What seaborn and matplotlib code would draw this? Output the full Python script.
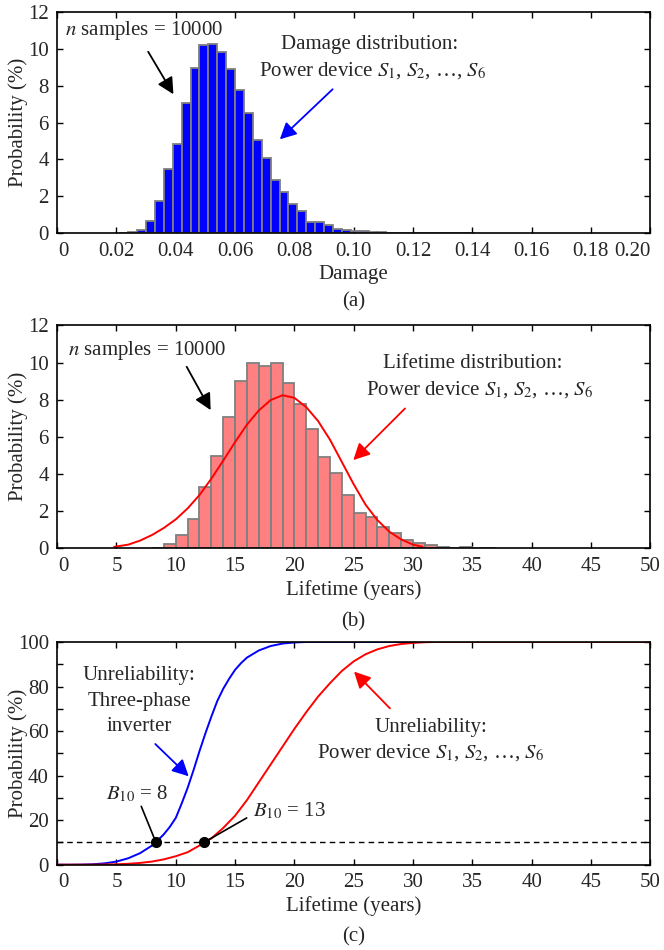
import numpy as np
import matplotlib
matplotlib.use("Agg")
import matplotlib.pyplot as plt
from matplotlib.ticker import MultipleLocator, FixedLocator, FixedFormatter
from matplotlib.transforms import ScaledTranslation
import seaborn as sns

# ─── Data ──────────────────────────────────────────────────────────────────────

# (a) damage histogram, bin width 0.003
damage_edges = [0.021, 0.024, 0.027, 0.030, 0.033, 0.036, 0.039, 0.042, 0.045,
                0.048, 0.051, 0.054, 0.057, 0.060, 0.063, 0.066, 0.069, 0.072,
                0.075, 0.078, 0.081, 0.084, 0.087, 0.090, 0.093, 0.096, 0.099,
                0.102, 0.105, 0.108, 0.111, 0.114, 0.117, 0.120, 0.123, 0.126,
                0.129, 0.132, 0.135, 0.138, 0.141]
damage_prob = [0.02, 0.05, 0.2, 0.65, 1.73, 3.46, 4.86, 7.06, 8.97,
               10.18, 10.25, 9.82, 8.9, 7.78, 6.49, 5.05, 4.09, 2.86,
               2.23, 1.6, 1.21, 0.63, 0.59, 0.43, 0.22, 0.16, 0.13,
               0.1, 0.07, 0.05, 0.04, 0.03, 0.03, 0.02, 0.02, 0.01,
               0.01, 0.0, 0.0, 0.01]
damage_ticks = [0, 0.02, 0.04, 0.06, 0.08, 0.10, 0.12, 0.14, 0.16, 0.18, 0.20]
damage_ticklabels = ["0", "0.02", "0.04", "0.06", "0.08", "0.10", "0.12",
                     "0.14", "0.16", "0.18", "0.20"]

# (b) lifetime histogram, 1-year bins from 8 to 37
life_edges = list(range(8, 38))
life_prob = [0.04, 0.25, 0.7, 1.56, 3.32, 4.99, 7.07, 9.02, 9.96, 9.81,
             10.0, 8.92, 7.77, 6.42, 4.93, 4.03, 2.87, 1.88, 1.66, 1.14,
             0.84, 0.47, 0.28, 0.2, 0.06, 0.04, 0.06, 0.02, 0.02]
year_ticks = [0, 5, 10, 15, 20, 25, 30, 35, 40, 45, 50]

# (b) fitted lifetime density
fit_years = [4.8, 5, 6, 7, 8, 9, 10, 11, 12, 13, 14, 15, 16, 17, 18, 19, 20,
             21, 22, 23, 24, 25, 26, 27, 28, 29, 30, 30.8]
fit_prob = [0.08, 0.1, 0.2, 0.42, 0.72, 1.1, 1.56, 2.15, 2.87, 3.75, 4.72,
            5.72, 6.66, 7.42, 7.98, 8.24, 8.1, 7.6, 6.85, 5.85, 4.65, 3.45,
            2.35, 1.52, 0.9, 0.48, 0.2, 0.08]

# (c) unreliability curves
inv_years = [0, 1, 2, 3, 4, 5, 6, 7, 8, 8.5, 9, 9.5, 10, 10.5, 11, 11.5, 12,
             12.5, 13, 13.5, 14, 14.5, 15, 15.5, 16, 17, 18, 19, 20, 21,
             25, 30, 35, 40, 45, 50]
inv_unrel = [0, 0, 0.05, 0.2, 0.6, 1.4, 2.9, 5.2, 8.6, 11.0, 13.7, 17, 21,
             27.5, 34.5, 42.5, 51, 59, 66.5, 73.5, 79, 83.5, 87.5, 90.5, 93,
             96.2, 98.2, 99.3, 99.8, 100, 100, 100, 100, 100, 100, 100]

dev_years = list(range(0, 33)) + [35, 40, 45, 50]
dev_unrel = [0, 0, 0, 0.02, 0.1, 0.2, 0.4, 0.8, 1.4, 2.4,
             3.8, 5.6, 8.6, 11.8, 16.5, 22, 29, 37, 45, 53,
             61, 68.5, 75.5, 81.5, 87, 91.3, 94.5, 96.7, 98.2, 99.1,
             99.6, 99.9, 100, 100, 100, 100, 100]

b10_years = [8.33, 12.38]
b10_level = 10

# ─── Style ─────────────────────────────────────────────────────────────────────

sns.set_style("ticks")
plt.rcParams["font.family"] = ["Liberation Serif", "DejaVu Serif"]
plt.rcParams["mathtext.fontset"] = "stix"
plt.rcParams["xtick.direction"] = "in"
plt.rcParams["ytick.direction"] = "in"
plt.rcParams["xtick.top"] = True
plt.rcParams["ytick.right"] = True
plt.rcParams["axes.linewidth"] = 1.2

FS = 15
EDGE = "#7f7f7f"
DEV_TXT = r"Power device $S_1$, $S_2$, …, $S_6$"


def style_axes(ax, fig):
    ax.tick_params(axis="both", which="both", labelsize=FS, length=4,
                   width=1.0, color="black", pad=6)
    for s in ax.spines.values():
        s.set_color("black")
    ax.set_ylabel("Probability (%)", fontsize=FS)
    ax.yaxis.set_label_coords(-0.05, 0.5)
    # first x label "0" sits a little right of its tick in the reference
    first = ax.xaxis.get_major_ticks()[0].label1
    first.set_transform(first.get_transform()
                        + ScaledTranslation(6 / 100, 0, fig.dpi_scale_trans))


def arrow(ax, tail, head, color):
    ax.annotate("", xy=head, xytext=tail,
                arrowprops=dict(arrowstyle="-|>,head_length=0.55,head_width=0.28",
                                color=color, lw=1.3, mutation_scale=18,
                                shrinkA=0, shrinkB=0))


fig = plt.figure(figsize=(6.64, 9.5), dpi=100)
ax_a = fig.add_axes([0.0861, 0.7544, 0.8931, 0.2333])
ax_b = fig.add_axes([0.0861, 0.4228, 0.8931, 0.2347])
ax_c = fig.add_axes([0.0861, 0.0898, 0.8931, 0.2344])

# ─── (a) Damage ────────────────────────────────────────────────────────────────
centers_a = [(damage_edges[i] + damage_edges[i + 1]) / 2 for i in range(len(damage_prob))]
sns.histplot(x=centers_a, weights=damage_prob, bins=damage_edges, ax=ax_a,
             color="#0000ff", edgecolor=EDGE, linewidth=1.3, alpha=1)
ax_a.set_xlim(0, 0.2)
ax_a.set_ylim(0, 12)
ax_a.xaxis.set_major_locator(FixedLocator(damage_ticks))
ax_a.xaxis.set_major_formatter(FixedFormatter(damage_ticklabels))
ax_a.yaxis.set_major_locator(MultipleLocator(2))
style_axes(ax_a, fig)
ax_a.get_xticklabels()[-1].set_horizontalalignment("right")
ax_a.set_xlabel("Damage", fontsize=FS, labelpad=3)

ax_a.text(0.0026, 11.0, r"$n$ samples = 10000", fontsize=FS, va="center", ha="left")
arrow(ax_a, (0.0307, 9.83), (0.0392, 7.53), "black")
ax_a.text(0.1055, 10.2, "Damage distribution:", fontsize=FS, ha="center", va="center")
ax_a.text(0.1065, 8.84, DEV_TXT, fontsize=FS, ha="center", va="center")
arrow(ax_a, (0.0929, 7.8), (0.0751, 5.09), "#0000ff")

# ─── (b) Lifetime ──────────────────────────────────────────────────────────────
centers_b = [e + 0.5 for e in life_edges[:-1]]
sns.histplot(x=centers_b, weights=life_prob, bins=life_edges, ax=ax_b,
             color="#ff8080", edgecolor=EDGE, linewidth=1.3, alpha=1)
sns.lineplot(x=fit_years, y=fit_prob, ax=ax_b, color="#ff0000", lw=1.4)
ax_b.set_xlim(0, 50)
ax_b.set_ylim(0, 12)
ax_b.xaxis.set_major_locator(FixedLocator(year_ticks))
ax_b.yaxis.set_major_locator(MultipleLocator(2))
style_axes(ax_b, fig)
ax_b.set_xlabel("Lifetime (years)", fontsize=FS, labelpad=3)

ax_b.text(0.94, 10.65, r"$n$ samples = 10000", fontsize=FS, va="center", ha="left")
arrow(ax_b, (10.92, 9.77), (12.94, 7.44), "black")
ax_b.text(35.0, 9.95, "Lifetime distribution:", fontsize=FS, ha="center", va="center")
ax_b.text(35.6, 8.52, DEV_TXT, fontsize=FS, ha="center", va="center")
arrow(ax_b, (29.33, 7.53), (24.97, 4.75), "#ff0000")

# ─── (c) Unreliability ─────────────────────────────────────────────────────────
ax_c.axhline(b10_level, color="black", lw=1.0, ls=(0, (4, 3)))
sns.lineplot(x=inv_years, y=inv_unrel, ax=ax_c, color="#0000ff", lw=1.4)
sns.lineplot(x=dev_years, y=dev_unrel, ax=ax_c, color="#ff0000", lw=1.4)
ax_c.plot(b10_years, [b10_level] * len(b10_years), "o", color="black", ms=7, zorder=5)
ax_c.set_xlim(0, 50)
ax_c.set_ylim(0, 100)
ax_c.xaxis.set_major_locator(FixedLocator(year_ticks))
ax_c.yaxis.set_major_locator(MultipleLocator(20))
ax_c.yaxis.set_minor_locator(MultipleLocator(10))
style_axes(ax_c, fig)
ax_c.set_xlabel("Lifetime (years)", fontsize=FS, labelpad=3)

ax_c.text(6.9, 73.5, "Unreliability:\nThree-phase\ninverter", fontsize=FS,
          ha="center", va="center", linespacing=1.45)
arrow(ax_c, (8.27, 54.2), (11.09, 39.7), "#0000ff")
ax_c.text(6.73, 31.7, r"$B_{10}$ = 8", fontsize=FS, ha="center", va="center")
ax_c.plot([7.09, b10_years[0]], [26.2, b10_level], color="black", lw=1.2)
ax_c.text(16.5, 24.1, r"$B_{10}$ = 13", fontsize=FS, ha="left", va="center")
ax_c.plot([b10_years[1], 15.98], [b10_level, 21.0], color="black", lw=1.2)
ax_c.text(31.5, 61.4, "Unreliability:", fontsize=FS, ha="center", va="center")
ax_c.text(31.5, 50.2, DEV_TXT, fontsize=FS, ha="center", va="center")
arrow(ax_c, (28.06, 70.2), (25.03, 86.7), "#ff0000")

# ─── Panel captions ────────────────────────────────────────────────────────────
for label, ypx in [("(a)", 302), ("(b)", 622), ("(c)", 937)]:
    fig.text(353.5 / 664, 1 - ypx / 950, label, fontsize=FS, ha="center", va="center")

fig.savefig("out.png", dpi=100)
plt.close(fig)
